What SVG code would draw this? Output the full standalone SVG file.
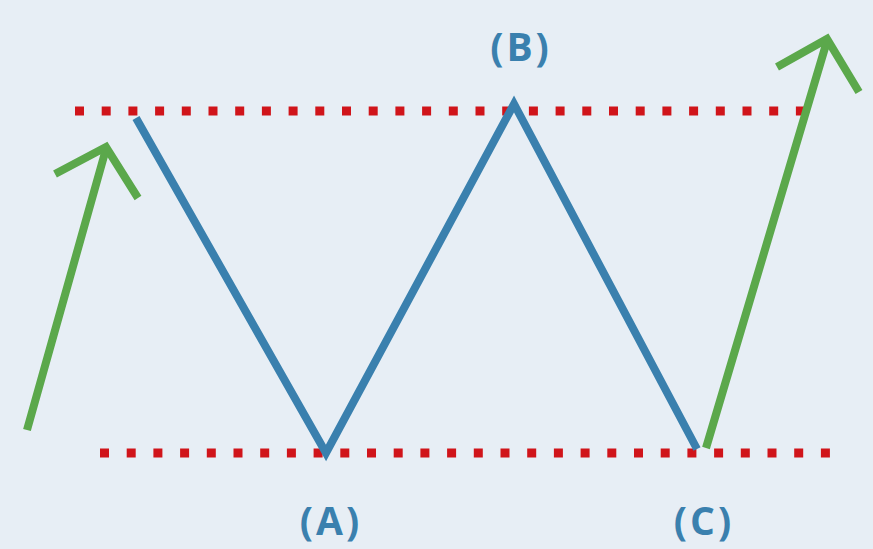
<svg xmlns="http://www.w3.org/2000/svg" width="873" height="549" viewBox="0 0 873 549">
<style>
.dots{stroke:#d0141a;stroke-width:9;stroke-dasharray:9 17.7;fill:none}
.zig{stroke:#3a80ae;stroke-width:8;fill:none;stroke-linejoin:miter}
.arr{stroke:#5ba84b;stroke-width:8;fill:none;stroke-linejoin:miter}
.lbl{font-family:"Open Sans","DejaVu Sans",sans-serif;font-weight:bold;fill:#3a80ae;text-anchor:middle;font-size:39px;letter-spacing:3px}
</style>
<rect width="873" height="549" fill="#e7eef5"/>
<g id="connectors">
<path class="dots" d="M75 111 H812"/>
<path class="dots" d="M100 453 H834"/>
<path class="zig" d="M136 118 L326 453 L514 104 L697 449"/>
<path class="arr" d="M27 430 L106 149 M55 174 L106 147 L138 198"/>
<path class="arr" d="M706 448 L827 41 M777 67 L827 39 L859 92"/>
</g>
<g id="A"><text class="lbl" x="331" y="535">(A)</text></g>
<g id="B"><text class="lbl" x="521" y="61">(B)</text></g>
<g id="C"><text class="lbl" x="704" y="535">(C)</text></g>
</svg>
